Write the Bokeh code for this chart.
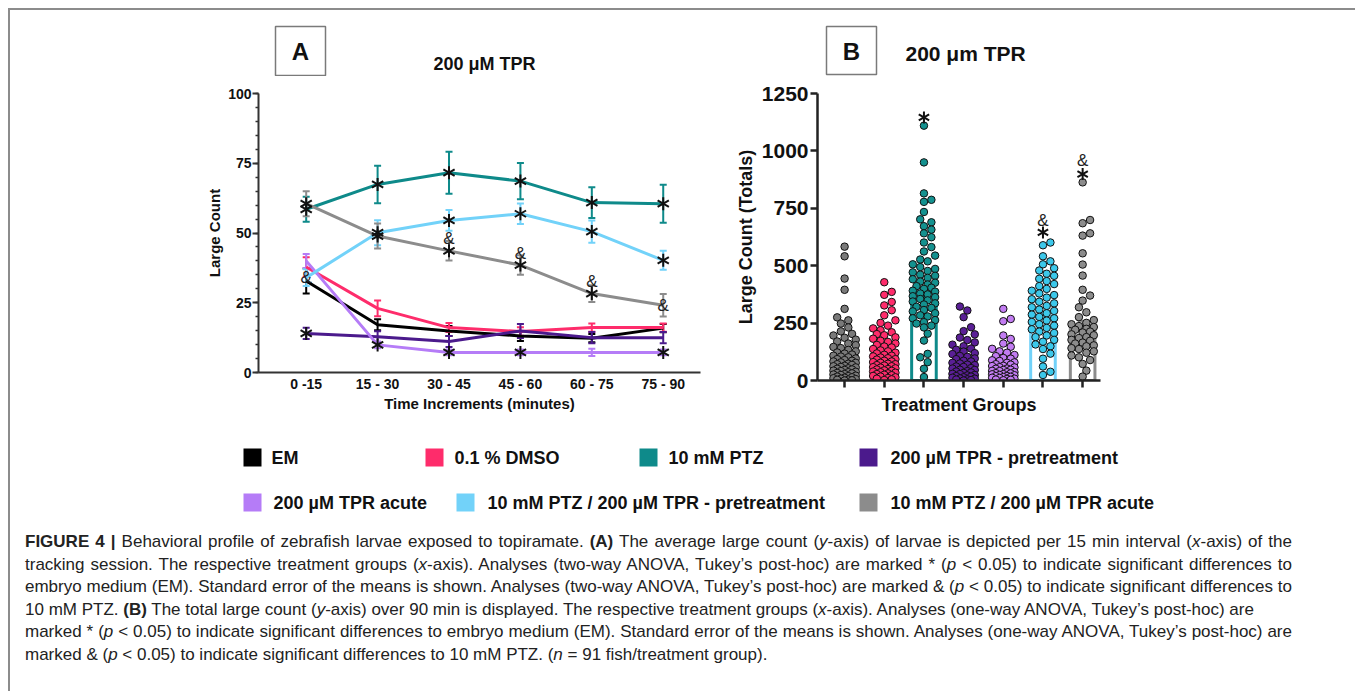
import numpy as np
from bokeh.plotting import figure
from bokeh.layouts import column, row
from bokeh.models import Range1d, FixedTicker, Whisker, TeeHead, Div, ColumnDataSource
from bokeh.core.properties import value
from bokeh.embed import file_html
from bokeh.resources import INLINE

FONT = "Liberation Sans"

# ---------------- data ----------------
groups = ["EM", "0.1 % DMSO", "10 mM PTZ", "200 µM TPR - pretreatment",
          "200 µM TPR acute", "10 mM PTZ / 200 µM TPR - pretreatment",
          "10 mM PTZ / 200 µM TPR acute"]
colors = ["#000000", "#fe2c6b", "#0e8a8a", "#4b1a8c", "#b57cf7", "#72d2f9", "#8c8c8c"]
dot_colors = ["#7a7a7a", "#fe2c6b", "#14918f", "#5a1f96", "#c27cf2", "#3cc8ea", "#8c8c8c"]

time_labels = ["0 -15", "15 - 30", "30 - 45", "45 - 60", "60 - 75", "75 - 90"]

# Panel A: mean large count per interval, and SEM
a_em = [32.8, 17.1, 14.9, 13.1, 12.3, 15.9]
a_em_sem = [4.5, 2.0, 1.8, 1.8, 1.5, 1.5]
a_dmso = [37.8, 23.0, 16.1, 14.7, 16.1, 16.1]
a_dmso_sem = [3.5, 2.8, 1.6, 1.5, 1.5, 1.5]
a_ptz = [58.5, 67.4, 71.6, 68.6, 60.9, 60.5]
a_ptz_sem = [4.5, 6.7, 7.5, 6.5, 5.5, 6.8]
a_tpr_pre = [14.0, 12.8, 11.1, 14.9, 12.5, 12.5]
a_tpr_pre_sem = [2.0, 2.0, 2.0, 2.5, 2.0, 2.0]
a_tpr_acute = [40.0, 9.9, 7.2, 7.2, 7.2, 7.2]
a_tpr_acute_sem = [2.5, 1.2, 1.0, 1.0, 1.3, 1.0]
a_ptz_tpr_pre = [34.0, 50.1, 54.5, 56.9, 50.5, 40.2]
a_ptz_tpr_pre_sem = [3.0, 4.5, 3.7, 3.7, 4.0, 3.4]
a_ptz_tpr_acute = [60.5, 48.9, 43.6, 38.5, 28.3, 24.1]
a_ptz_tpr_acute_sem = [4.5, 4.5, 3.5, 3.5, 3.0, 4.0]

a_means = [a_em, a_dmso, a_ptz, a_tpr_pre, a_tpr_acute, a_ptz_tpr_pre, a_ptz_tpr_acute]
a_sems = [a_em_sem, a_dmso_sem, a_ptz_sem, a_tpr_pre_sem, a_tpr_acute_sem,
          a_ptz_tpr_pre_sem, a_ptz_tpr_acute_sem]

# significance marks in panel A: group index -> interval indices
a_star_marks = {2: [0, 1, 2, 3, 4, 5], 5: [1, 2, 3, 4, 5], 6: [0, 1, 2, 3, 4],
                3: [0], 4: [1, 2, 3, 5]}
a_amp_marks = {6: [2, 3, 4, 5], 5: [0]}

b_em = [583, 541, 444, 395, 312, 275, 262, 248, 231, 214, 203, 196, 186, 178, 170,
        161, 154, 146, 141, 133, 127, 122, 117, 113, 108, 104, 101, 96, 93, 89,
        86, 83, 79, 77, 73, 71, 68, 64, 62, 59, 57, 53, 51, 48, 46, 43, 41, 38,
        36, 33, 31, 28, 26, 24, 21, 19, 17, 14, 12, 10, 8, 6, 4, 3, 1, 0]
b_dmso = [428, 386, 373, 342, 327, 306, 284, 262, 251, 239, 227, 219, 210, 202, 197,
          188, 182, 173, 168, 161, 155, 148, 144, 137, 131, 127, 121, 118, 112, 108,
          105, 100, 97, 93, 91, 86, 83, 80, 77, 73, 71, 67, 65, 62, 58, 56, 53, 50,
          48, 44, 42, 39, 36, 34, 31, 28, 25, 23, 20, 17, 14, 11, 8, 5, 2]
b_ptz = [1110, 950, 815, 787, 778, 734, 702, 689, 672, 657, 641, 624, 601, 581, 562,
         544, 527, 519, 506, 494, 486, 477, 471, 461, 456, 447, 441, 431, 426, 418,
         411, 404, 399, 391, 387, 379, 375, 367, 363, 355, 349, 344, 336, 331, 321,
         316, 307, 301, 293, 284, 279, 271, 263, 254, 248, 239, 231, 204, 174, 116,
         101, 80, 51, 15]
b_tpr_pre = [322, 305, 276, 232, 215, 201, 187, 176, 166, 156, 149, 139, 134, 126, 119,
             115, 107, 103, 96, 93, 86, 83, 77, 74, 69, 67, 61, 59, 54, 52, 47, 46, 41,
             39, 35, 33, 29, 28, 24, 22, 19, 17, 14, 12, 9, 8, 5, 4, 2, 0]
b_tpr_acute = [312, 268, 258, 196, 181, 161, 147, 138, 127, 121, 111, 106, 98, 95, 88,
               85, 79, 77, 71, 69, 64, 63, 58, 57, 52, 51, 47, 46, 42, 41, 37, 36, 32,
               31, 28, 27, 24, 23, 20, 19, 16, 15, 12, 11, 8, 7, 4, 3, 1]
b_ptz_tpr_pre = [601, 589, 541, 519, 506, 489, 479, 465, 456, 443, 433, 420, 411, 399,
                 391, 379, 372, 361, 354, 343, 336, 325, 319, 309, 303, 293, 287, 277,
                 271, 261, 255, 245, 239, 229, 223, 213, 207, 196, 189, 177, 169, 157,
                 149, 137, 117, 95, 61, 38, 24]
b_ptz_tpr_acute = [863, 699, 685, 641, 631, 554, 505, 457, 395, 370, 348, 319, 297, 276,
                   263, 251, 245, 237, 233, 225, 221, 213, 209, 201, 197, 189, 185, 177,
                   173, 165, 161, 153, 149, 141, 137, 127, 121, 109, 101, 89, 72, 43, 17]
b_points = [b_em, b_dmso, b_ptz, b_tpr_pre, b_tpr_acute, b_ptz_tpr_pre, b_ptz_tpr_acute]
b_means = [109, 119, 384, 75, 72, 280, 239]
b_sems = [11, 10, 22, 8, 7, 14, 20]
b_star_y = [None, None, 1146, None, None, 645, 899]
b_amp_y = [None, None, None, None, None, 696, 957]

# ---------------- helpers ----------------
def style_common(p):
    p.toolbar_location = None
    p.outline_line_color = None
    p.xgrid.visible = False
    p.ygrid.visible = False
    p.background_fill_color = "white"
    p.border_fill_color = "white"


def stars(p, xs, ys, size):
    for ang in (90, 30, -30):
        p.scatter(xs, ys, marker="dash", size=size, angle=ang, angle_units="deg",
                  line_color="#111111", line_width=2)


def swarm(vals, center, px_x, px_y, diam, max_off):
    step = diam * 0.5
    offs = [0.0]
    k = 1
    while k * step <= max_off:
        offs += [k * step, -k * step]
        k += 1
    placed = []
    out = [0.0] * len(vals)
    for i in np.argsort(vals):
        yp = vals[i] * px_y
        best, best_alt, best_score = None, 0.0, -1.0
        for s in offs:
            md = min([np.hypot(s - a, yp - b) for a, b in placed] or [1e9])
            if md >= diam * 0.92:
                best = s
                break
            if md > best_score:
                best_score, best_alt = md, s
        if best is None:
            best = best_alt
        placed.append((best, yp))
        out[i] = center + best / px_x
    return out

# ---------------- header ----------------
W = 1340
hdr = figure(width=W, height=66, x_range=Range1d(0, W), y_range=Range1d(66, 0),
             output_backend="svg", toolbar_location=None, min_border=0)
style_common(hdr)
hdr.axis.visible = False
hdr.quad(left=[265, 816], right=[315, 866], top=[16, 16], bottom=[65, 64],
         fill_color="white", line_color="#7a7a7a", line_width=1.5)
hdr.text(x=[290, 841], y=[41, 41], text=["A", "B"], text_font=value(FONT),
         text_font_style="bold", text_font_size="24px", text_align="center",
         text_baseline="middle", text_color="#111")
hdr.text(x=[474], y=[53], text=["200 μM TPR"], text_font=value(FONT),
         text_font_style="bold", text_font_size="18px", text_align="center",
         text_baseline="middle", text_color="#111")
hdr.text(x=[895], y=[43], text=["200 μm TPR"], text_font=value(FONT),
         text_font_style="bold", text_font_size="21px", text_align="left",
         text_baseline="middle", text_color="#111")

# ---------------- panel A ----------------
pa = figure(frame_width=442, frame_height=279, min_border_left=248, min_border_right=20,
            min_border_top=16, min_border_bottom=44,
            x_range=Range1d(-0.668, 5.522), y_range=Range1d(0, 100),
            output_backend="svg", toolbar_location=None)
style_common(pa)
xs = list(range(len(time_labels)))
for gi, (m, s) in enumerate(zip(a_means, a_sems)):
    src = ColumnDataSource(dict(x=xs, y=m, up=[a + b for a, b in zip(m, s)],
                                lo=[a - b for a, b in zip(m, s)]))
    pa.line("x", "y", source=src, line_color=colors[gi], line_width=3)
    pa.add_layout(Whisker(base="x", upper="up", lower="lo", source=src,
                          line_color=colors[gi], line_width=2,
                          upper_head=TeeHead(size=7, line_color=colors[gi], line_width=2),
                          lower_head=TeeHead(size=7, line_color=colors[gi], line_width=2)))
for gi, idx in a_star_marks.items():
    stars(pa, idx, [a_means[gi][i] for i in idx], 13)
for gi, idx in a_amp_marks.items():
    has_star = [i in a_star_marks.get(gi, []) for i in idx]
    pa.text(x=idx, y=[a_means[gi][i] for i in idx], text=["&"] * len(idx),
            y_offset=[-12 if h else 0 for h in has_star],
            text_font=value(FONT), text_font_size="17px", text_align="center",
            text_baseline="middle", text_color="#222")

pa.xaxis.ticker = FixedTicker(ticks=xs)
pa.xaxis.major_label_overrides = {i: t for i, t in enumerate(time_labels)}
pa.xaxis.major_tick_out = 0
pa.xaxis.major_label_standoff = 3
pa.xaxis.axis_label = "Time Increments (minutes)"
pa.xaxis.axis_label_standoff = 0
pa.yaxis.ticker = FixedTicker(ticks=[0, 25, 50, 75, 100], minor_ticks=list(range(0, 101, 5)))
pa.yaxis.axis_label = "Large Count"
pa.yaxis.major_tick_out = 6
pa.yaxis.major_tick_in = 0
pa.yaxis.minor_tick_out = 3
pa.yaxis.minor_tick_in = 0
pa.yaxis.major_label_standoff = 1
pa.yaxis.axis_label_standoff = 2
for ax in (pa.xaxis[0], pa.yaxis[0]):
    ax.axis_line_width = 2
    ax.axis_line_color = "#333"
    ax.major_tick_line_width = 2
    ax.minor_tick_line_width = 1.5
    ax.major_tick_line_color = "#333" if ax is pa.yaxis[0] else None
    ax.minor_tick_line_color = "#333" if ax is pa.yaxis[0] else None
    ax.major_label_text_font = FONT
    ax.major_label_text_font_style = "bold"
    ax.major_label_text_font_size = "14px"
    ax.major_label_text_color = "#111"
    ax.axis_label_text_font = FONT
    ax.axis_label_text_font_style = "bold"
    ax.axis_label_text_font_size = "15px"
    ax.axis_label_text_color = "#111"

# ---------------- panel B ----------------
pb = figure(frame_width=283, frame_height=287, min_border_left=97,
            min_border_right=W - 710 - 97 - 283, min_border_top=17, min_border_bottom=35,
            x_range=Range1d(-0.683, 6.45), y_range=Range1d(0, 1250),
            output_backend="svg", toolbar_location=None)
style_common(pb)
gx = list(range(len(groups)))
pb.vbar(x=gx, top=b_means, width=0.62, fill_color=None, line_color=colors, line_width=3)
px_y = 287 / 1250.0
for gi, vals in enumerate(b_points):
    sx = swarm(vals, gi, 40.0, px_y, 7.5, 13)
    pb.scatter(sx, vals, marker="circle", size=7.5, fill_color=dot_colors[gi],
               line_color="#111", line_width=1)
bsrc = ColumnDataSource(dict(x=gx, up=[m + s for m, s in zip(b_means, b_sems)],
                             lo=[m - s for m, s in zip(b_means, b_sems)], c=colors))
pb.add_layout(Whisker(base="x", upper="up", lower="lo", source=bsrc,
                      line_color="c", line_width=2,
                      upper_head=TeeHead(size=10, line_color="c", line_width=2),
                      lower_head=TeeHead(size=10, line_color="c", line_width=2)))
sg = [i for i, v in enumerate(b_star_y) if v is not None]
stars(pb, sg, [b_star_y[i] for i in sg], 12)
ag = [i for i, v in enumerate(b_amp_y) if v is not None]
pb.text(x=ag, y=[b_amp_y[i] for i in ag], text=["&"] * len(ag), text_font=value(FONT),
        text_font_size="17px", text_align="center", text_baseline="middle",
        text_color="#222")

pb.xaxis.ticker = FixedTicker(ticks=gx)
pb.xaxis.major_label_text_font_size = "2px"
pb.xaxis.major_label_text_color = None
pb.xaxis.major_label_standoff = 0
pb.xaxis.axis_label = "Treatment Groups"
pb.xaxis.axis_label_standoff = 7
pb.yaxis.ticker = FixedTicker(ticks=[0, 250, 500, 750, 1000, 1250])
pb.yaxis.axis_label = "Large Count (Totals)"
pb.yaxis.major_label_standoff = 2
pb.yaxis.axis_label_standoff = 3
for ax in (pb.xaxis[0], pb.yaxis[0]):
    ax.axis_line_width = 2.5
    ax.axis_line_color = "#222"
    ax.major_tick_line_width = 2.5
    ax.major_tick_line_color = "#222"
    ax.major_tick_out = 7
    ax.major_tick_in = 0
    ax.minor_tick_line_color = None
    ax.axis_label_text_font = FONT
    ax.axis_label_text_font_style = "bold"
    ax.axis_label_text_font_size = "18px"
    ax.axis_label_text_color = "#111"
pb.yaxis.major_label_text_font = FONT
pb.yaxis.major_label_text_font_style = "bold"
pb.yaxis.major_label_text_font_size = "21px"
pb.yaxis.major_label_text_color = "#111"

# ---------------- legend ----------------
lg = figure(width=W, height=105, x_range=Range1d(0, W), y_range=Range1d(105, 0),
            output_backend="svg", toolbar_location=None, min_border=0)
style_common(lg)
lg.axis.visible = False
sq_x = [233, 415, 629, 849, 233, 446, 849]
sq_y = [40, 40, 40, 40, 85, 85, 85]
tx_x = [261, 444, 658, 880, 263, 477, 880]
lg.rect(x=[v + 9 for v in sq_x], y=sq_y, width=18, height=18, fill_color=colors,
        line_color=None)
lg.text(x=tx_x, y=sq_y, text=groups, text_font=value(FONT), text_font_style="bold",
        text_font_size="18px", text_align="left", text_baseline="middle",
        text_color="#111")

# ---------------- caption ----------------
lines = [
    ("<b>FIGURE 4 |</b> Behavioral profile of zebrafish larvae exposed to topiramate. <b>(A)</b> "
     "The average large count (<i>y</i>-axis) of larvae is depicted per 15 min interval "
     "(<i>x</i>-axis) of the", True),
    ("tracking session. The respective treatment groups (<i>x</i>-axis). Analyses (two-way ANOVA, "
     "Tukey’s post-hoc) are marked * (<i>p</i> &lt; 0.05) to indicate significant differences to", True),
    ("embryo medium (EM). Standard error of the means is shown. Analyses (two-way ANOVA, Tukey’s "
     "post-hoc) are marked &amp; (<i>p</i> &lt; 0.05) to indicate significant differences to", True),
    ("10 mM PTZ. <b>(B)</b> The total large count (<i>y</i>-axis) over 90 min is displayed. The "
     "respective treatment groups (<i>x</i>-axis). Analyses (one-way ANOVA, Tukey’s post-hoc) are", False),
    ("marked * (<i>p</i> &lt; 0.05) to indicate significant differences to embryo medium (EM). "
     "Standard error of the means is shown. Analyses (one-way ANOVA, Tukey’s post-hoc) are", True),
    ("marked &amp; (<i>p</i> &lt; 0.05) to indicate significant differences to 10 mM PTZ. "
     "(<i>n</i> = 91 fish/treatment group).", False),
]
html = ("<div style='font-family:\"Liberation Sans\"; font-size:17px; color:#222; "
        "padding:4px 0 0 10px;'>")
for t, just in lines:
    al = "text-align:justify; text-align-last:justify;" if just else "text-align:left;"
    html += ("<div style='height:22.6px; line-height:22.6px; white-space:nowrap; width:1267px; "
             + al + "'>" + t + "</div>")
html += "</div>"
cap = Div(text=html, width=W, height=159)

root = column(hdr, row(pa, pb), lg, cap,
              styles={"border-top": "2px solid #8c8c8c", "border-left": "2px solid #8c8c8c",
                      "border-right": "2px solid #8c8c8c",
                      "margin-left": "8px", "margin-top": "8px"})

open("out.html", "w").write(file_html(root, INLINE))
